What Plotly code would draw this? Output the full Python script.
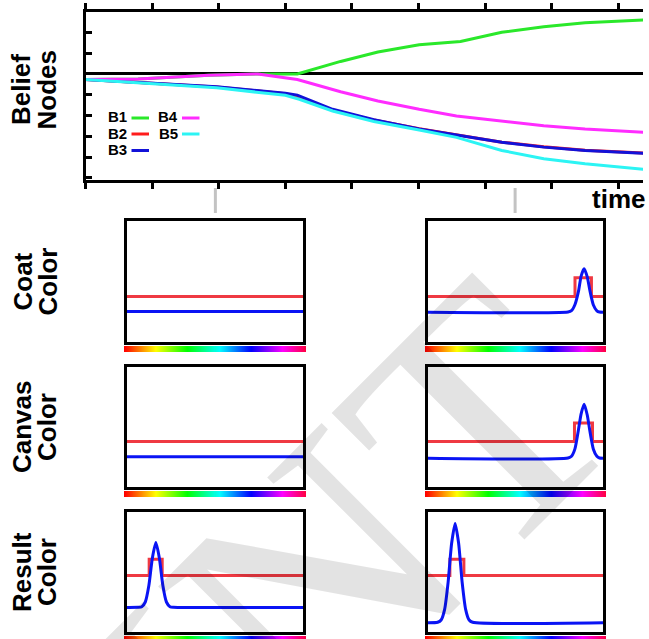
import colorsys
import numpy as np
import plotly.graph_objects as go

W, H = 649, 639

# ---------------- belief node trajectories (top panel) ----------------
t_b1 = [0, 0.79, 1.85, 2.59, 3.18, 3.83, 4.39, 5.01, 5.63, 6.25, 6.88, 7.5, 8.38]
b1 = [-0.27, -0.24, -0.06, 0.0, 0.0, 0.6, 1.05, 1.40, 1.56, 2.0, 2.27, 2.46, 2.59]
t_b4 = [0, 0.79, 1.85, 2.59, 3.18, 3.83, 4.39, 5.01, 5.57, 6.25, 6.88, 7.5, 8.38]
b4 = [-0.27, -0.24, -0.06, 0.0, -0.27, -0.86, -1.3, -1.70, -2.02, -2.28, -2.49, -2.65, -2.81]
t_b23 = [0, 1.0, 1.97, 3.0, 3.18, 3.71, 4.33, 5.01, 5.57, 6.25, 6.88, 7.5, 8.38]
b2 = [-0.27, -0.45, -0.63, -0.95, -1.08, -1.75, -2.22, -2.63, -2.92, -3.28, -3.50, -3.67, -3.80]
b3 = [-0.27, -0.44, -0.62, -0.93, -1.02, -1.70, -2.20, -2.65, -2.94, -3.29, -3.52, -3.68, -3.81]
t_b5 = [0, 1.0, 1.97, 3.0, 3.21, 3.71, 4.33, 5.01, 5.57, 6.25, 6.88, 7.5, 8.38]
b5 = [-0.27, -0.47, -0.67, -1.03, -1.22, -1.78, -2.29, -2.70, -3.05, -3.68, -4.08, -4.32, -4.59]

belief_names = ["B1", "B2", "B3", "B4", "B5"]
belief_colors = ["#2ae82a", "#ff1c1c", "#1212d8", "#ff2cff", "#2cf4f4"]

# time instants of the two snapshot columns
snapshot_times = [1.95, 6.45]

# ---------------- colour distributions (x = position on hue axis) ----------------
flat_x = [0.0, 1.0]
coat_t1_red = [0.375, 0.375]
coat_t1_blue = [0.252, 0.252]
canvas_t1_red = [0.379, 0.379]
canvas_t1_blue = [0.252, 0.252]

coat_t2_red_x = [0.0, 0.84, 0.84, 0.934, 0.934, 1.0]
coat_t2_red = [0.375, 0.375, 0.53, 0.53, 0.375, 0.375]
coat_t2_blue_x = [0.0, 0.80, 0.82, 0.84, 0.86, 0.875, 0.892, 0.91, 0.925, 0.945, 0.965, 0.98, 1.0]
coat_t2_blue = [0.246, 0.248, 0.259, 0.31, 0.42, 0.545, 0.606, 0.538, 0.426, 0.306, 0.258, 0.248, 0.246]

canvas_t2_red_x = [0.0, 0.837, 0.837, 0.94, 0.94, 1.0]
canvas_t2_red = [0.379, 0.379, 0.534, 0.534, 0.379, 0.379]
canvas_t2_blue_x = [0.0, 0.80, 0.82, 0.84, 0.86, 0.875, 0.892, 0.91, 0.925, 0.945, 0.965, 0.98, 1.0]
canvas_t2_blue = [0.24, 0.242, 0.257, 0.32, 0.48, 0.61, 0.69, 0.60, 0.466, 0.315, 0.256, 0.242, 0.24]

result_t1_red_x = [0.0, 0.126, 0.126, 0.20, 0.20, 1.0]
result_t1_red = [0.47, 0.47, 0.606, 0.606, 0.47, 0.47]
result_t1_blue_x = [0.0, 0.064, 0.084, 0.104, 0.124, 0.144, 0.164, 0.184, 0.204, 0.224, 0.244, 0.264, 1.0]
result_t1_blue = [0.205, 0.206, 0.211, 0.25, 0.385, 0.615, 0.746, 0.615, 0.385, 0.25, 0.211, 0.206, 0.205]

result_t2_red_x = [0.0, 0.125, 0.125, 0.205, 0.205, 1.0]
result_t2_red = [0.47, 0.47, 0.606, 0.606, 0.47, 0.47]
result_t2_blue_x = [0.0, 0.055, 0.075, 0.095, 0.115, 0.135, 0.155, 0.175, 0.195, 0.215, 0.235, 0.255, 1.0]
result_t2_blue = [0.077, 0.081, 0.10, 0.189, 0.416, 0.739, 0.904, 0.739, 0.416, 0.189, 0.10, 0.081, 0.077]

row_labels = [("Coat", "Color"), ("Canvas", "Color"), ("Result", "Color")]
panels = [
    # (row, col, red_x, red_y, blue_x, blue_y)
    (0, 0, flat_x, coat_t1_red, flat_x, coat_t1_blue),
    (0, 1, coat_t2_red_x, coat_t2_red, coat_t2_blue_x, coat_t2_blue),
    (1, 0, flat_x, canvas_t1_red, flat_x, canvas_t1_blue),
    (1, 1, canvas_t2_red_x, canvas_t2_red, canvas_t2_blue_x, canvas_t2_blue),
    (2, 0, result_t1_red_x, result_t1_red, result_t1_blue_x, result_t1_blue),
    (2, 1, result_t2_red_x, result_t2_red, result_t2_blue_x, result_t2_blue),
]


def px(x):
    return x / W


def py(y):
    return 1 - y / H


fig = go.Figure()

BOLD = dict(family="Liberation Sans, Arial, sans-serif", color="black", weight="bold")

# ---------------- top panel ----------------
for name, t, v, c in [("B1", t_b1, b1, belief_colors[0]),
                      ("B2", t_b23, b2, belief_colors[1]),
                      ("B3", t_b23, b3, belief_colors[2]),
                      ("B4", t_b4, b4, belief_colors[3]),
                      ("B5", t_b5, b5, belief_colors[4])]:
    fig.add_trace(go.Scatter(x=t, y=v, mode="lines", name=name,
                             line=dict(color=c, width=3), xaxis="x", yaxis="y",
                             showlegend=False, hoverinfo="skip"))

layout = dict(
    width=W, height=H, margin=dict(l=0, r=0, t=0, b=0),
    paper_bgcolor="white", plot_bgcolor="rgba(0,0,0,0)",
    showlegend=False,
    xaxis=dict(domain=[px(85.5), px(643)], range=[0, 8.37], showline=True, linecolor="black",
               linewidth=3, mirror="ticks", ticks="outside", ticklen=6, tickwidth=2.5,
               tickcolor="black", dtick=1, tick0=0, showticklabels=False, showgrid=False,
               zeroline=False, fixedrange=True),
    yaxis=dict(domain=[py(180), py(11.5)], range=[-5.1, 3], showline=True, linecolor="black",
               linewidth=3, ticks="inside", ticklen=6, tickwidth=2.5, tickcolor="black",
               dtick=1, tick0=0, showticklabels=False, showgrid=False, zeroline=True,
               zerolinecolor="black", zerolinewidth=2.5, anchor="x", fixedrange=True),
)

shapes = []
annotations = []

# snapshot markers below the time axis
for ts in snapshot_times:
    shapes.append(dict(type="line", xref="x", yref="paper", x0=ts, x1=ts,
                       y0=py(188), y1=py(213), line=dict(color="#c3c3c3", width=3)))

# legend (label followed by a short line sample)
legend_slots = [(0, 129, 117), (1, 129, 133), (2, 129, 149.5), (3, 179.5, 117), (4, 179.5, 133)]
for i, xr, yc in legend_slots:
    annotations.append(dict(text=belief_names[i], x=px(xr), y=py(yc), xref="paper", yref="paper",
                            xanchor="right", yanchor="middle", showarrow=False,
                            font=dict(BOLD, size=15)))
    shapes.append(dict(type="line", xref="paper", yref="paper", x0=px(xr + 2.5), x1=px(xr + 20),
                       y0=py(yc + 1), y1=py(yc + 1), line=dict(color=belief_colors[i], width=3)))


def side_label(text, x, y, size=26):
    return dict(text=text, x=px(x), y=py(y), xref="paper", yref="paper",
                xanchor="center", yanchor="middle", textangle=-90, showarrow=False,
                font=dict(BOLD, size=size))


annotations.append(dict(text="time", x=px(647), y=py(199), xref="paper", yref="paper",
                        xanchor="right", yanchor="middle", showarrow=False,
                        font=dict(BOLD, size=26)))
annotations.append(side_label("Belief", 21, 90))
annotations.append(side_label("Nodes", 46.5, 90))

# ---------------- colour-distribution panels ----------------
col_x = [(127, 303), (428, 603)]
row_y = [(221, 342), (367, 487), (512, 632)]
strip_y = [(346, 352), (491, 497), (636, 642)]
strip_x = [(124, 306), (425, 606)]

hues = np.linspace(0, 1, 181)
strip_scale = []
for h in hues:
    r, g, b = colorsys.hsv_to_rgb(h * 0.955, 1, 1)
    strip_scale.append([float(h), f"rgb({int(r*255)},{int(g*255)},{int(b*255)})"])

for k, (row, col, rx, ry, bx, by) in enumerate(panels):
    ax_id = k + 2
    xa, ya = f"xaxis{ax_id}", f"yaxis{ax_id}"
    xr, yr = f"x{ax_id}", f"y{ax_id}"
    x0, x1 = col_x[col]
    y0, y1 = row_y[row]
    layout[xa] = dict(domain=[px(x0), px(x1)], range=[0, 1], showline=True, mirror=True,
                      linecolor="black", linewidth=3, ticks="", showticklabels=False,
                      showgrid=False, zeroline=False, anchor=yr, fixedrange=True)
    layout[ya] = dict(domain=[py(y1), py(y0)], range=[0, 1], showline=True, mirror=True,
                      linecolor="black", linewidth=3, ticks="", showticklabels=False,
                      showgrid=False, zeroline=False, anchor=xr, fixedrange=True)
    fig.add_trace(go.Scatter(x=rx, y=ry, mode="lines", line=dict(color="rgba(238,40,50,0.92)", width=3),
                             xaxis=xr, yaxis=yr, hoverinfo="skip", cliponaxis=True))
    fig.add_trace(go.Scatter(x=bx, y=by, mode="lines",
                             line=dict(color="#0a14f4", width=3, shape="spline", smoothing=0.6),
                             xaxis=xr, yaxis=yr, hoverinfo="skip", cliponaxis=True))

    # hue strip under the panel
    sid = k + 8
    sxa, sya = f"xaxis{sid}", f"yaxis{sid}"
    sx0, sx1 = strip_x[col]
    sy0, sy1 = strip_y[row]
    layout[sxa] = dict(domain=[px(sx0), px(sx1)], range=[-0.5, len(hues) - 0.5], visible=False,
                       anchor=f"y{sid}", fixedrange=True)
    layout[sya] = dict(domain=[max(py(sy1), 0), py(sy0)], range=[-0.5, 0.5], visible=False,
                       anchor=f"x{sid}", fixedrange=True)
    fig.add_trace(go.Heatmap(z=[list(hues)], colorscale=strip_scale, showscale=False,
                             xaxis=f"x{sid}", yaxis=f"y{sid}", hoverinfo="skip", zmin=0, zmax=1))

for row, (l1, l2) in enumerate(row_labels):
    yc = (row_y[row][0] + row_y[row][1]) / 2
    annotations.append(side_label(l1, 22, yc))
    annotations.append(side_label(l2, 47, yc))

# watermark
annotations.append(dict(text="PREPRINT", x=px(-22), y=py(922), xref="paper", yref="paper",
                        xanchor="center", yanchor="middle", textangle=-45, showarrow=False,
                        font=dict(family="Liberation Serif, Times New Roman, serif", size=345,
                                  color="rgba(0,0,0,0.11)")))

layout["shapes"] = shapes
layout["annotations"] = annotations
fig.update_layout(**layout)

fig.write_html("out.html")
